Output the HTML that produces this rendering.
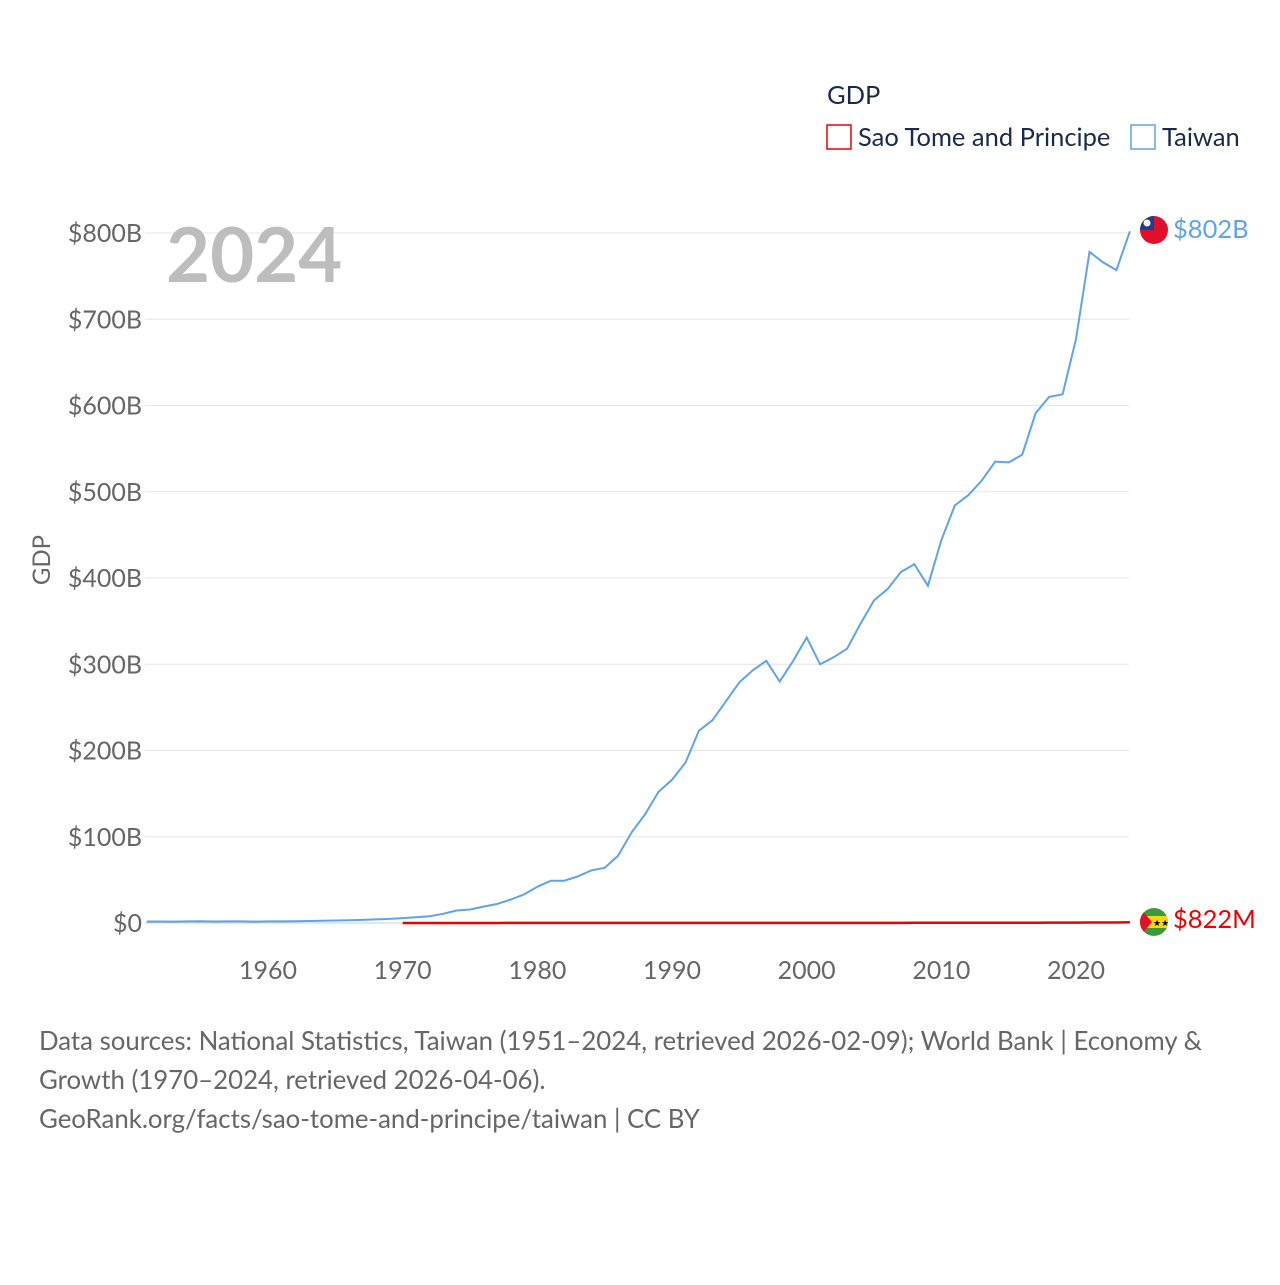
<!DOCTYPE html>
<html><head><meta charset="utf-8"><style>
body{margin:0;background:#fff;font-family:"Liberation Sans",sans-serif}
svg text{font-family:"Lato","Liberation Sans",sans-serif}
</style></head><body>
<svg width="1280" height="1280" viewBox="0 0 1280 1280">
<rect width="1280" height="1280" fill="#fff"/>
<g id="grid"></g>
<g id="xticks"></g>
<text x="166" y="282" font-size="76" font-weight="bold" fill="#bdbdbd">2024</text>
<text x="50" y="560" font-size="24" fill="#666" transform="rotate(-90 50 560)" text-anchor="middle">GDP</text>
<text x="827" y="104" font-size="25.5" fill="#1a2a4a">GDP</text>
<g><rect x="827" y="125" width="24" height="24" fill="none" stroke="#e00" stroke-width="1.5"/><text x="858" y="146" font-size="25.5" fill="#1a2a4a">Sao Tome and Principe</text></g>
<g><rect x="1131" y="125" width="24" height="24" fill="none" stroke="#5ea4ea" stroke-width="1.5"/><text x="1162" y="146" font-size="25.5" fill="#1a2a4a">Taiwan</text></g>
<path id="tw" fill="none" stroke="#5ea4ea" stroke-width="2"/>
<path id="stp" fill="none" stroke="#e00" stroke-width="2.5"/>
<g><clipPath id="c1"><circle cx="1154" cy="230" r="14"/></clipPath><g clip-path="url(#c1)"><rect x="1140" y="216" width="28" height="28" fill="#e0102a"/><rect x="1140" y="216" width="14" height="14" fill="#1a3c9a"/><circle cx="1147" cy="223" r="3.5" fill="#fff"/></g></g>
<text x="1173" y="238" font-size="25.5" fill="#5ea4ea">$802B</text>
<g><clipPath id="c2"><circle cx="1154" cy="922" r="14"/></clipPath><g clip-path="url(#c2)"><rect x="1140" y="908" width="28" height="28" fill="#3c9a3c"/><rect x="1140" y="916" width="28" height="12" fill="#f5d90a"/><polygon points="1140,908 1152,922 1140,936" fill="#e0102a"/><text x="1153" y="926" font-size="9" fill="#000">★★</text></g></g>
<text x="1173" y="928" font-size="25.5" fill="#e00">$822M</text>
<g font-size="25.8" fill="#666">
<text x="39" y="1050">Data sources: National Statistics, Taiwan (1951–2024, retrieved 2026-02-09); World Bank | Economy &amp;</text>
<text x="39" y="1089">Growth (1970–2024, retrieved 2026-04-06).</text>
<text x="39" y="1128">GeoRank.org/facts/sao-tome-and-principe/taiwan | CC BY</text>
</g>
</svg>
<script>
const yTicks=[0,100,200,300,400,500,600,700,800];
const yTickLabels=["$0","$100B","$200B","$300B","$400B","$500B","$600B","$700B","$800B"];
const xTicks=[1960,1970,1980,1990,2000,2010,2020];
const twYears=[];for(let y=1951;y<=2024;y++)twYears.push(y);
const twValues=[1.7,1.7,1.6,1.8,2.0,1.7,1.9,1.9,1.6,1.8,1.8,2.0,2.3,2.6,2.9,3.2,3.6,4.2,4.8,5.7,6.6,7.9,10.7,14.5,15.7,19,22,27,33,42,49,49,54,61,64,78,105,126,152,166,186,223,235,257,279,293,304,280,304,331,300,308,318,347,374,387,407,416,391,444,484,496,513,535,534,543,591,610,613,677,778,766,757,802];
const stpYears=[];for(let y=1970;y<=2024;y++)stpYears.push(y);
const stpValues=[0.02,0.02,0.03,0.03,0.04,0.04,0.05,0.05,0.06,0.07,0.08,0.08,0.08,0.08,0.07,0.07,0.08,0.08,0.1,0.1,0.1,0.1,0.1,0.1,0.1,0.1,0.1,0.1,0.1,0.1,0.1,0.1,0.1,0.1,0.1,0.12,0.13,0.15,0.18,0.19,0.2,0.25,0.27,0.3,0.35,0.32,0.35,0.39,0.41,0.43,0.47,0.55,0.55,0.63,0.82];
const X=y=>268+(y-1960)*13.467;
const Y=v=>923-v*0.8625;
const ns="http://www.w3.org/2000/svg";
const grid=document.getElementById('grid');
yTicks.forEach((t,i)=>{
 const l=document.createElementNS(ns,'line');
 l.setAttribute('x1',145);l.setAttribute('x2',1129);l.setAttribute('y1',Y(t));l.setAttribute('y2',Y(t));
 l.setAttribute('stroke',t===0?'#ccc':'#e6e6e6');
 
 
 grid.appendChild(l);
 const tx=document.createElementNS(ns,'text');
 tx.setAttribute('x',142);tx.setAttribute('y',Y(t)+9);tx.setAttribute('text-anchor','end');
 tx.setAttribute('font-size','25');tx.setAttribute('fill','#666');tx.textContent=yTickLabels[i];
 
 
 grid.appendChild(tx);
});
const xt=document.getElementById('xticks');
xTicks.forEach(t=>{
 const tx=document.createElementNS(ns,'text');
 tx.setAttribute('x',X(t));tx.setAttribute('y',979);tx.setAttribute('text-anchor','middle');
 tx.setAttribute('font-size','25');tx.setAttribute('fill','#666');tx.textContent=t;
 
 
 xt.appendChild(tx);
});
const path=(ys,vs)=>ys.map((y,i)=>(i?'L':'M')+X(y).toFixed(1)+','+Y(vs[i]).toFixed(1)).join('');
document.getElementById('tw').setAttribute('d',path(twYears,twValues));
document.getElementById('stp').setAttribute('d',path(stpYears,stpValues));
</script>
</body></html>
